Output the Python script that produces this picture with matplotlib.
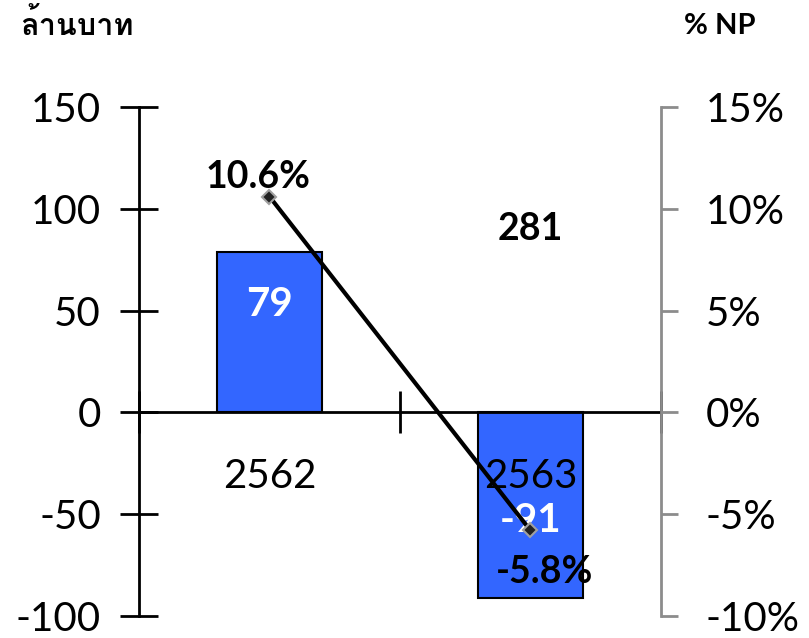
import matplotlib
matplotlib.use("Agg")
import matplotlib.pyplot as plt
from matplotlib import font_manager
from matplotlib.ft2font import FT2Font

years = ["2562", "2563"]
profit = [79, -91]
np_margin = [10.6, -5.8]
extra_label = "281"
left_ticks = [-100, -50, 0, 50, 100, 150]
right_ticks = [-10, -5, 0, 5, 10, 15]


def find_thai_family():
    # look for any installed font that carries Thai glyphs
    for f in font_manager.fontManager.ttflist:
        try:
            if ord("ล") in FT2Font(f.fname).get_charmap():
                return f.name
        except Exception:
            continue
    return None


thai = find_thai_family()
base = "Lato"
families = [base] + ([thai] if thai else []) + ["DejaVu Sans"]
plt.rcParams["font.family"] = families
plt.rcParams["axes.unicode_minus"] = False

bar_color = "#3366FF"
gray = "#8c8c8c"

fig = plt.figure(figsize=(8.09, 6.38), dpi=100)
ax = fig.add_axes([0.1718, 0.0345, 0.8170 - 0.1718, 0.8323 - 0.0345])

x = list(range(len(years)))
ax.bar(x, profit, width=0.4, color=bar_color, edgecolor="black", linewidth=1.5, zorder=2)
ax.set_axisbelow(False)

ax.set_xlim(-0.5, 1.5)
ax.set_ylim(-100, 150)
ax.set_yticks(left_ticks)
ax.tick_params(axis="y", direction="inout", length=27, width=2, labelsize=29, pad=14)

ax.spines["top"].set_visible(False)
ax.spines["right"].set_visible(False)
ax.spines["left"].set_linewidth(2)
ax.spines["bottom"].set_position(("data", 0))
ax.spines["bottom"].set_linewidth(2)
ax.spines["bottom"].set_zorder(3)

ax.set_xticks([-0.5, 0.5, 1.5])
ax.set_xticklabels([])
ax.set_xticks(x, minor=True)
ax.set_xticklabels(years, minor=True)
ax.tick_params(axis="x", which="major", direction="inout", length=30, width=2)
ax.tick_params(axis="x", which="minor", length=0, labelsize=29, pad=33)

# value labels on bars
ax.text(0, 53, f"{profit[0]}", ha="center", va="center", color="white",
        fontsize=29, fontweight="bold", zorder=5)
ax.text(1, -53, f"{profit[1]}", ha="center", va="center", color="white",
        fontsize=29, fontweight="bold", zorder=5)
ax.text(1, 90, extra_label, ha="center", va="center", color="black",
        fontsize=27, fontweight="bold")

ax2 = ax.twinx()
ax2.set_position(ax.get_position())
ax2.set_ylim(-10, 15)
ax2.set_yticks(right_ticks)
ax2.set_yticklabels([f"{t}%" for t in right_ticks])
ax2.tick_params(axis="y", direction="out", length=12, width=2, color=gray,
                labelsize=29, pad=20)
for s in ["top", "left", "bottom"]:
    ax2.spines[s].set_visible(False)
ax2.spines["right"].set_color(gray)
ax2.spines["right"].set_linewidth(2)

ax2.plot(x, np_margin, color="black", linewidth=3, marker="D", markersize=7,
         markerfacecolor="#222222", markeredgecolor="#a0a0a0", markeredgewidth=1.5,
         zorder=4)
ax2.annotate(f"{np_margin[0]}%", (0, np_margin[0]), xytext=(-8, 14),
             textcoords="offset points", ha="center", va="center",
             fontsize=27, fontweight="bold")
ax2.annotate(f"{np_margin[1]}%", (1, np_margin[1]), xytext=(10, -30),
             textcoords="offset points", ha="center", va="center",
             fontsize=27, fontweight="bold")

fig.text(20 / 809, 1 - 35 / 638, "ล้านบาท", ha="left", va="baseline",
         fontsize=22, fontweight="bold")
fig.text(755 / 809, 1 - 34 / 638, "% NP", ha="right", va="baseline",
         fontsize=21, fontweight="bold")

fig.savefig("out.png", dpi=100)
